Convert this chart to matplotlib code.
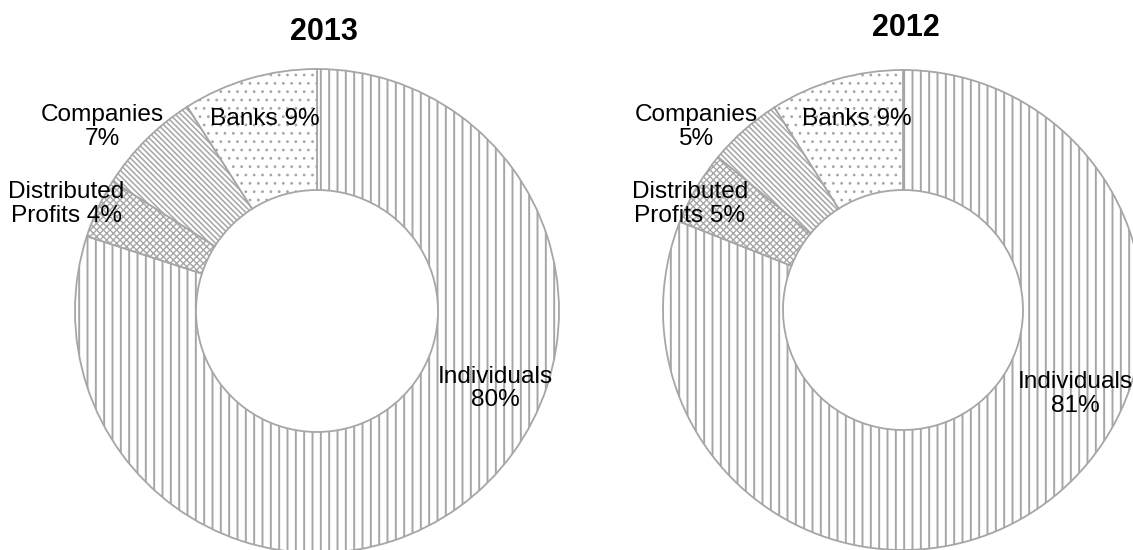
import matplotlib
matplotlib.use("Agg")
import matplotlib.pyplot as plt

plt.rcParams['font.family'] = ['Liberation Sans', 'DejaVu Sans']
plt.rcParams['hatch.linewidth'] = 1.4
plt.rcParams['hatch.color'] = '#b3b3b3'

categories = ["Individuals", "Distributed Profits", "Companies", "Banks"]
label_templates = ["Individuals\n{}%", "Distributed\nProfits {}%", "Companies\n{}%", "Banks {}%"]
values_2013 = [80, 4, 7, 9]
values_2012 = [81, 5, 5, 9]
years = ["2013", "2012"]

hatches = ["||", "xxxxx", "\\" * 6, ".."]
hatch_widths = [1.4, 1.0, 1.1, 0.8]
edge = "#a6a6a6"

W, H = 1133, 550
fig = plt.figure(figsize=(W / 100, H / 100), dpi=100)

# chart geometry in pixels: centre x, centre y (from top), outer radius
charts = [
    dict(cx=317, cy=311, r=242, values=values_2013, title=years[0],
         title_pos=(0.03, 1.153),
         label_pos=[(0.736, -0.32), (-1.037, 0.442), (-0.888, 0.76), (-0.215, 0.793)]),
    dict(cx=903, cy=310, r=240, values=values_2012, title=years[1],
         title_pos=(0.013, 1.175),
         label_pos=[(0.717, -0.35), (-0.8875, 0.442), (-0.8625, 0.7625), (-0.192, 0.796)]),
]

for c in charts:
    ax = fig.add_axes([(c['cx'] - c['r']) / W, (H - c['cy'] - c['r']) / H,
                       2 * c['r'] / W, 2 * c['r'] / H])
    wedges, _ = ax.pie(c['values'], startangle=90, counterclock=False, radius=1,
                       colors=['white'] * 4,
                       wedgeprops=dict(width=0.5, edgecolor=edge, linewidth=1.3))
    for w, h, hw in zip(wedges, hatches, hatch_widths):
        w.set_hatch(h)
        if hasattr(w, 'set_hatch_linewidth'):
            w.set_hatch_linewidth(hw)
        w.set_clip_on(False)
    ax.set_xlim(-1, 1)
    ax.set_ylim(-1, 1)
    ax.set_aspect('equal')
    ax.axis('off')
    for tmpl, v, (x, y) in zip(label_templates, c['values'], c['label_pos']):
        ax.text(x, y, tmpl.format(v), ha='center', va='center', fontsize=17.6,
                linespacing=1.08, color='black')
    ax.text(c['title_pos'][0], c['title_pos'][1], c['title'], ha='center', va='center',
            fontsize=22, fontweight='bold', color='black')

fig.savefig("out.png", dpi=100, facecolor='white')
